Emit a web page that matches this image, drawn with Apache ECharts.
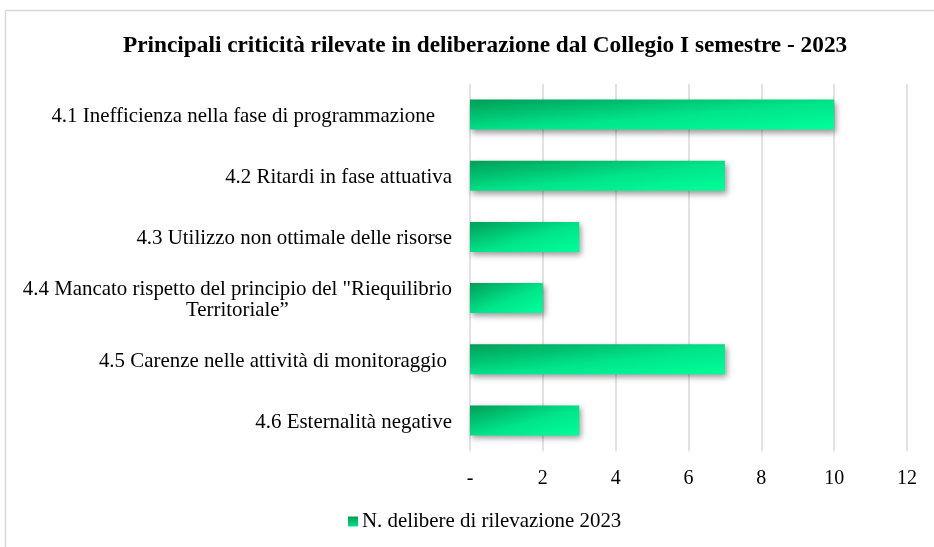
<!DOCTYPE html>
<html>
<head>
<meta charset="utf-8">
<script src="https://cdn.jsdelivr.net/npm/echarts@6/dist/echarts.min.js"></script>
<style>html,body{margin:0;padding:0;background:#fff}#c{width:934px;height:547px}</style>
</head>
<body>
<div id="c"></div>
<script>
const titleText = 'Principali criticità rilevate in deliberazione dal Collegio I semestre - 2023';
const categories = [
  '4.1 Inefficienza nella fase di programmazione',
  '4.2 Ritardi in fase attuativa',
  '4.3 Utilizzo non ottimale delle risorse',
  '4.4 Mancato rispetto del principio del "Riequilibrio\nTerritoriale”',
  '4.5 Carenze nelle attività di monitoraggio',
  '4.6 Esternalità negative'
];
const values = [10, 7, 3, 2, 7, 3];
const seriesName = 'N. delibere di rilevazione 2023';
const xTicks = ['-', '2', '4', '6', '8', '10', '12'];

const FONT = '"Liberation Serif", "Times New Roman", serif';
const FS = 20.9;
const pxPerUnit = 36.4, barH = 30;
function grad(v) {
  const W = Math.max(v * pxPerUnit, 1), H = barH;
  const s = W * W + H * H;
  return {
    type: 'linear', x: 0, y: 0, x2: 2 * H * H / s, y2: 2 * W * W / s,
    colorStops: [
      {offset: 0, color: '#009E57'},
      {offset: 0.55, color: '#00E58A'},
      {offset: 1, color: '#00FF99'}
    ]
  };
}
const pads = {0: 17, 4: 5};
function richStyle(p) {
  return {align: 'center', fontFamily: FONT, fontSize: FS, color: '#000', lineHeight: 21, padding: [0, p, 0, 0]};
}
const chart = echarts.init(document.getElementById('c'), null, {renderer: 'canvas'});
chart.setOption({
  backgroundColor: '#fff',
  animation: false,
  graphic: [{type: 'rect', shape: {x: 5.5, y: 10.5, width: 2000, height: 2000}, style: {fill: 'none', stroke: '#d9d9d9', lineWidth: 1.5}, silent: true}],
  title: {
    text: titleText, left: 118, top: 29,
    textStyle: {fontFamily: FONT, fontWeight: 'bold', fontSize: 23.3, color: '#000'}
  },
  legend: {
    bottom: 10, left: 343, itemWidth: 10, itemHeight: 10,
    icon: 'rect',
    textStyle: {fontFamily: FONT, fontSize: FS, color: '#000', padding: [0, 0, 0, -1]},
    data: [seriesName]
  },
  grid: {left: 470, right: 27, top: 84, bottom: 96, containLabel: false},
  xAxis: {
    type: 'value', min: 0, max: 12, interval: 2,
    axisLine: {show: false}, axisTick: {show: false},
    splitLine: {show: true, lineStyle: {color: '#d9d9d9', width: 1.5}},
    axisLabel: {
      margin: 18, fontFamily: FONT, fontSize: 20, color: '#000',
      formatter: function (v) { return xTicks[Math.round(v / 2)]; }
    }
  },
  yAxis: {
    type: 'category', inverse: true, data: categories,
    axisLine: {show: false}, axisTick: {show: false},
    axisLabel: {
      margin: 18, fontFamily: FONT, fontSize: FS, color: '#000', lineHeight: 21,
      padding: [4, 0, 0, 0],
      formatter: function (v, i) {
        const pad = pads[i] || 0;
        return v.split('\n').map(l => '{c' + pad + '|' + l + '}').join('\n');
      },
      rich: {c0: richStyle(0), c17: richStyle(17), c5: richStyle(5)}
    }
  },
  series: [{
    type: 'bar', name: seriesName,
    barWidth: barH,
    itemStyle: {
      color: grad(10),
      shadowColor: 'rgba(0,0,0,0.4)', shadowBlur: 6, shadowOffsetX: 2, shadowOffsetY: 3
    },
    data: values.map(v => ({value: v, itemStyle: {color: grad(v)}}))
  }]
});
</script>
</body>
</html>
